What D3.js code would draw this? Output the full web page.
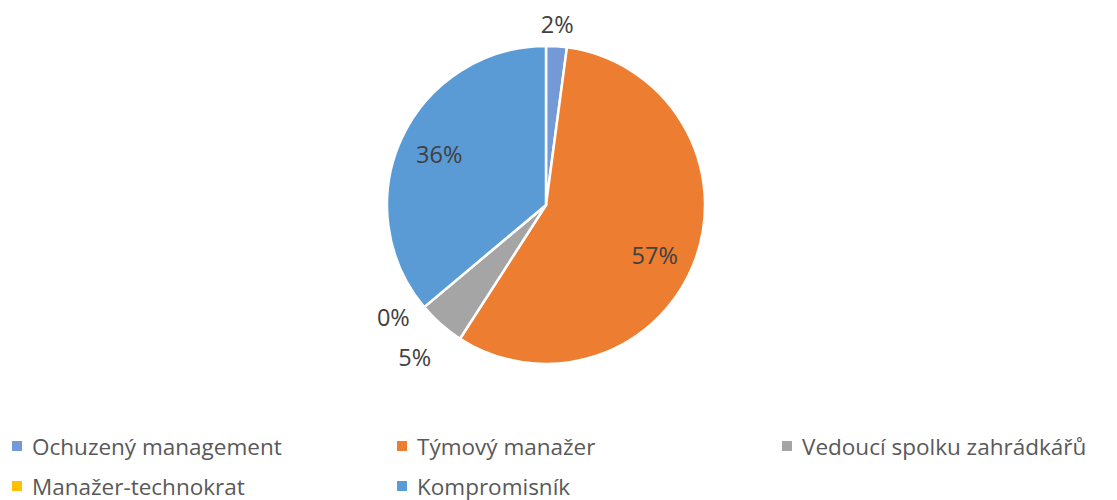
<!DOCTYPE html>
<html><head><meta charset="utf-8">
<script src="https://cdn.jsdelivr.net/npm/d3@7"></script>
<style>body{margin:0;background:#fff}svg{display:block}text{font-family:"Open Sans",sans-serif}</style>
</head><body><svg id="c" width="1117" height="500"></svg>
<script>
const categories = ["Ochuzený management","Týmový manažer","Vedoucí spolku zahrádkářů","Manažer-technokrat","Kompromisník"];
const values = [2.1, 57.0, 4.8, 0.0, 36.1];
const labels = ["2%","57%","5%","0%","36%"];
const colors = ["#7399D6","#ED7D31","#A5A5A5","#FFC000","#5B9BD5"];

const svg = d3.select("#c");
const cx = 546, cy = 205, r = 159;
const g = svg.append("g").attr("transform",`translate(${cx},${cy})`);
const pie = d3.pie().sort(null).value(d=>d)(values);
const arc = d3.arc().innerRadius(0).outerRadius(r);
g.selectAll("path").data(pie).enter().append("path")
 .attr("d",arc).attr("fill",(d,i)=>colors[i]).attr("stroke","#fff").attr("stroke-width",2.5).attr("stroke-linejoin","round");

// label placement: inside for big slices, outside for small ones
const inner = d3.arc().innerRadius(119).outerRadius(119);
const outerR = [186, 0, 200, 190, 0];
const shift = [[-1,5],[-3,9],[1,2],[-7,-10],[1,-1]];
pie.forEach((d,i)=>{
  let p;
  if (values[i] > 10) { p = inner.centroid(d); }
  else {
    const a = (d.startAngle+d.endAngle)/2;
    p = [Math.sin(a)*outerR[i], -Math.cos(a)*outerR[i]];
  }
  g.append("text").attr("x",p[0]+shift[i][0]).attr("y",p[1]+shift[i][1]).attr("text-anchor","middle")
   .attr("dominant-baseline","central").attr("font-size",23.5).attr("fill","#404040").text(labels[i]);
});
const lg = svg.append("g");
const colX = [12, 397, 782];
categories.forEach((c,i)=>{
  const col = i % 3, row = Math.floor(i/3);
  const x = colX[col], y = 446 + row*40;
  lg.append("rect").attr("x",x).attr("y",y-5).attr("width",10).attr("height",10).attr("fill",colors[i]);
  lg.append("text").attr("x",x+20).attr("y",y).attr("dominant-baseline","central").attr("font-size",22.5).attr("fill","#595959").text(c);
});
</script></body></html>
